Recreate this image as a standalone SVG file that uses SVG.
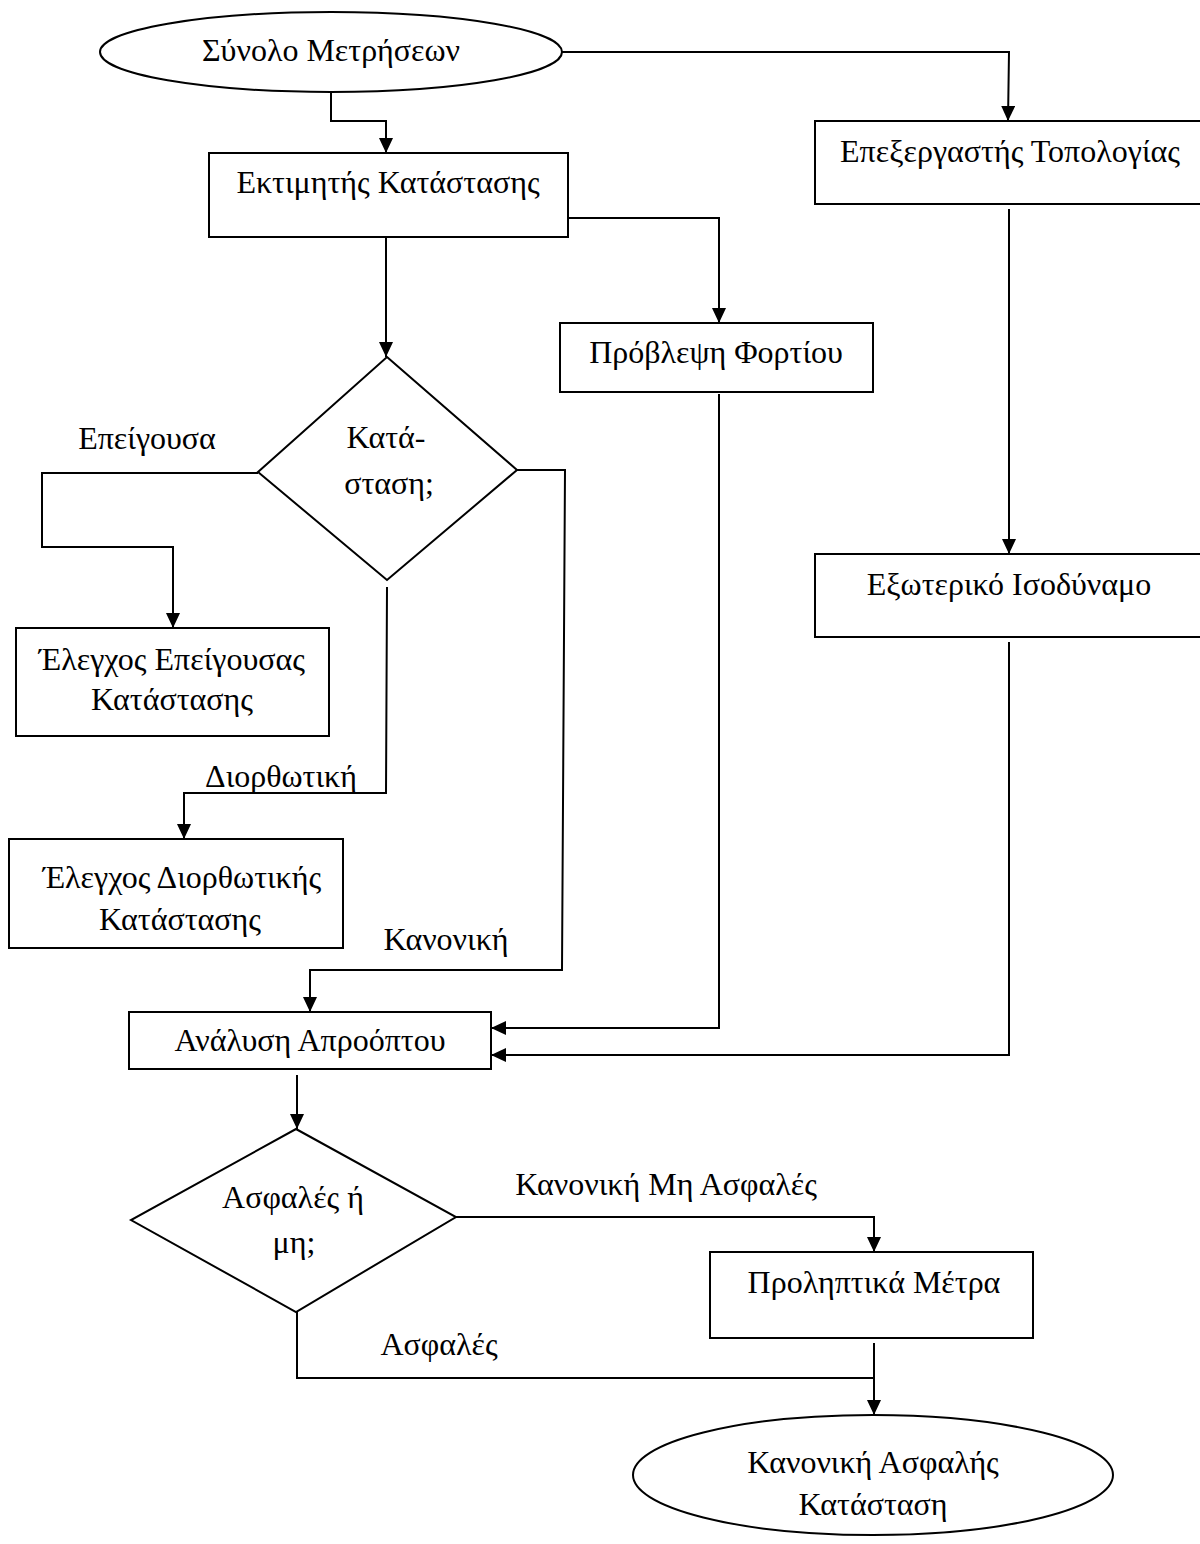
<svg xmlns="http://www.w3.org/2000/svg" width="1200" height="1544" viewBox="0 0 1200 1544">
  <style>
    .shape { fill: #ffffff; stroke: #000000; stroke-width: 2; }
    .link { fill: none; stroke: #000000; stroke-width: 2; }
    .lbl { font-family: "Liberation Serif", "Times New Roman", serif; font-size: 32px; fill: #000000; text-anchor: middle; }
  </style>
  <defs>
    <marker id="arrow" markerUnits="userSpaceOnUse" markerWidth="15" markerHeight="14" refX="15" refY="7" orient="auto">
      <path d="M0,0 L15,7 L0,14 z" fill="#000000"/>
    </marker>
  </defs>
  <rect width="1200" height="1544" fill="#ffffff"/>

  <!-- connectors -->
  <g id="connectors">
    <polyline class="link" points="331,92 331,121 386,121 386,153" marker-end="url(#arrow)"/>
    <polyline class="link" points="562,52 1009,52 1008,121" marker-end="url(#arrow)"/>
    <polyline class="link" points="568,218 719,218 719,323" marker-end="url(#arrow)"/>
    <polyline class="link" points="386,237 386,357" marker-end="url(#arrow)"/>
    <polyline class="link" points="258,473 42,473 42,547 173,547 173,628" marker-end="url(#arrow)"/>
    <polyline class="link" points="517,470 565,470 562,970 310,970 310,1012" marker-end="url(#arrow)"/>
    <polyline class="link" points="387,587 386,793 184,793 184,839" marker-end="url(#arrow)"/>
    <polyline class="link" points="719,394 719,1028 491,1028" marker-end="url(#arrow)"/>
    <polyline class="link" points="1009,209 1009,554" marker-end="url(#arrow)"/>
    <polyline class="link" points="1009,642 1009,1055 491,1055" marker-end="url(#arrow)"/>
    <polyline class="link" points="297,1075 297,1129" marker-end="url(#arrow)"/>
    <polyline class="link" points="456,1217 874,1217 874,1252" marker-end="url(#arrow)"/>
    <polyline class="link" points="297,1312 297,1378 874,1378"/>
    <polyline class="link" points="874,1343 874,1415" marker-end="url(#arrow)"/>
    <text class="lbl" x="147" y="449">Επείγουσα</text>
    <text class="lbl" x="281" y="787">Διορθωτική</text>
    <text class="lbl" x="446" y="950">Κανονική</text>
    <text class="lbl" x="666" y="1195">Κανονική Μη Ασφαλές</text>
    <text class="lbl" x="439" y="1355">Ασφαλές</text>
  </g>

  <g id="measurements">
    <ellipse class="shape" cx="331" cy="52" rx="231" ry="40"/>
    <text class="lbl" x="331" y="61">Σύνολο Μετρήσεων</text>
  </g>

  <g id="state-estimator">
    <rect class="shape" x="209" y="153" width="359" height="84"/>
    <text class="lbl" x="388" y="193">Εκτιμητής Κατάστασης</text>
  </g>

  <g id="topology-processor">
    <rect class="shape" x="815" y="121" width="395" height="83"/>
    <text class="lbl" x="1010" y="162">Επεξεργαστής Τοπολογίας</text>
  </g>

  <g id="load-forecast">
    <rect class="shape" x="560" y="323" width="313" height="69"/>
    <text class="lbl" x="716" y="363">Πρόβλεψη Φορτίου</text>
  </g>

  <g id="state-decision">
    <polygon class="shape" points="387,357 517,470 387,580 258,472"/>
    <text class="lbl" x="386" y="448">Κατά-</text>
    <text class="lbl" x="389" y="494">σταση;</text>
  </g>

  <g id="external-equivalent">
    <rect class="shape" x="815" y="554" width="395" height="83"/>
    <text class="lbl" x="1009" y="595">Εξωτερικό Ισοδύναμο</text>
  </g>

  <g id="emergency-control">
    <rect class="shape" x="16" y="628" width="313" height="108"/>
    <text class="lbl" x="172" y="670">Έλεγχος Επείγουσας</text>
    <text class="lbl" x="172" y="710">Κατάστασης</text>
  </g>

  <g id="restorative-control">
    <rect class="shape" x="9" y="839" width="334" height="109"/>
    <text class="lbl" x="182" y="888">Έλεγχος Διορθωτικής</text>
    <text class="lbl" x="180" y="930">Κατάστασης</text>
  </g>

  <g id="contingency-analysis">
    <rect class="shape" x="129" y="1012" width="362" height="57"/>
    <text class="lbl" x="310" y="1051">Ανάλυση Απροόπτου</text>
  </g>

  <g id="security-decision">
    <polygon class="shape" points="296,1129 456,1217 296,1312 131,1220"/>
    <text class="lbl" x="293" y="1208">Ασφαλές ή</text>
    <text class="lbl" x="294" y="1253">μη;</text>
  </g>

  <g id="preventive-actions">
    <rect class="shape" x="710" y="1252" width="323" height="86"/>
    <text class="lbl" x="874" y="1293">Προληπτικά Μέτρα</text>
  </g>

  <g id="normal-secure">
    <ellipse class="shape" cx="873" cy="1475" rx="240" ry="60"/>
    <text class="lbl" x="873" y="1473">Κανονική Ασφαλής</text>
    <text class="lbl" x="873" y="1515">Κατάσταση</text>
  </g>
</svg>
